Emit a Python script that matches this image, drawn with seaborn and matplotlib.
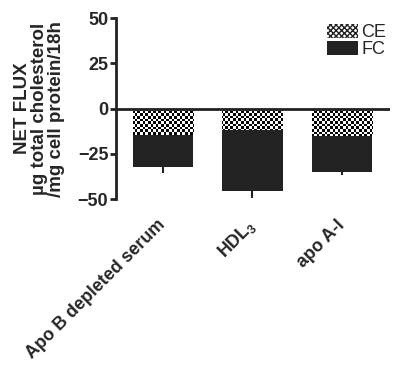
import numpy as np
import pandas as pd
import matplotlib
matplotlib.use('Agg')
import matplotlib.pyplot as plt
import seaborn as sns
from matplotlib.patches import Patch

# values
categories = ['Apo B depleted serum', 'HDL$_{\\mathregular{3}}$', 'apo A-I']
total_flux = [-32.5, -45.5, -35.2]   # FC bar (total net flux)
ce_flux = [-14.5, -12.0, -15.3]      # CE part
total_err = [3.0, 3.7, 1.3]

sns.set_style('ticks')
plt.rcParams['font.family'] = ['Liberation Sans', 'DejaVu Sans']
plt.rcParams['font.weight'] = 'bold'
plt.rcParams['mathtext.default'] = 'regular'
plt.rcParams['hatch.linewidth'] = 1.0

df = pd.DataFrame({'group': categories, 'total': total_flux, 'ce': ce_flux})
dark = '#222222'

fig = plt.figure(figsize=(3.93, 3.70), dpi=100)
ax = fig.add_axes([0.295, 0.462, 0.697, 0.489])

sns.barplot(data=df, x='group', y='total', color=dark, width=0.67,
            saturation=1, edgecolor=dark, linewidth=0, ax=ax)
ax.errorbar(np.arange(len(categories)), total_flux, yerr=[total_err, [0] * 3],
            fmt='none', ecolor=dark, elinewidth=1.5, capsize=0)
sns.barplot(data=df, x='group', y='ce', color='white', width=0.67,
            saturation=1, edgecolor=dark, linewidth=0, ax=ax)

# checkerboard texture for the CE bars
nx, ny = 105, 70
checker = (np.add.outer(np.arange(ny), np.arange(nx)) % 2).astype(float)
for p in ax.patches[len(categories):]:
    im = ax.imshow(checker, cmap='gray', vmin=0, vmax=1, interpolation='nearest',
                   extent=(-0.52, 2.53, -50, 50), aspect='auto', zorder=3)
    im.set_clip_path(p)
ax.set_xlim(-0.52, 2.53)
ax.set_ylim(-50, 50)

ax.axhline(0, color=dark, lw=2, zorder=5)
ax.set_yticks([-50, -25, 0, 25, 50])
ax.tick_params(axis='y', labelsize=13, width=2, length=4.5, pad=1, color=dark)
ax.tick_params(axis='x', length=0, labelsize=12.8, pad=17)
for lab in ax.get_xticklabels():
    lab.set_rotation(45)
    lab.set_ha('right')
    lab.set_va('center')
    lab.set_rotation_mode('anchor')
ax.set_xlabel('')
ax.set_ylabel('NET FLUX\nµg total cholesterol\n/mg cell protein/18h',
              fontsize=13.5, fontweight='bold', labelpad=9, linespacing=1.0)
sns.despine(ax=ax, bottom=True)
ax.spines['left'].set_linewidth(2)
ax.spines['left'].set_color(dark)

handles = [Patch(facecolor='white', edgecolor=dark, hatch='xxxxxx', lw=0),
           Patch(facecolor=dark, edgecolor=dark, lw=0)]
leg = ax.legend(handles, ['CE', 'FC'], loc='upper right', frameon=False,
                prop={'size': 13, 'weight': 'normal'}, handlelength=1.7,
                handleheight=0.85, handletextpad=0.2, labelspacing=0.0,
                borderaxespad=0.1, bbox_to_anchor=(1.02, 1.02))

fig.savefig('out.png', dpi=100)
